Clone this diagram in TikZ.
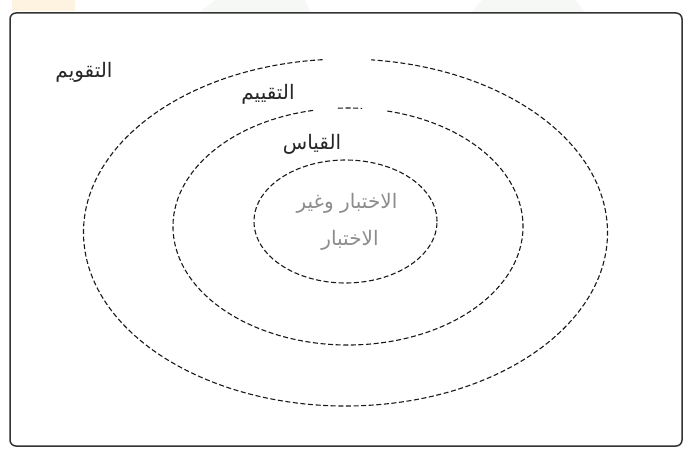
\documentclass[tikz,border=0pt]{standalone}
\usepackage{fontspec}
\TeXXeTstate=1
\newfontfamily\arabicfont[Script=Arabic]{DejaVu Sans}
\begin{document}
\begin{tikzpicture}[x=1pt,y=1pt,
  ring/.style={draw=black!90, line width=1.1pt, dash pattern=on 5pt off 2.6pt},
  lbl/.style={font=\arabicfont\fontsize{20}{24}\selectfont, text=black!85, inner sep=0pt},
  inlbl/.style={font=\arabicfont\fontsize{20}{24}\selectfont, text=black!45, inner sep=0pt}]
\useasboundingbox (0,0) rectangle (684,448);
\fill[white] (0,0) rectangle (684,448);
% faint background marks above the frame
\fill[yellow!12!orange!10] (12,437) rectangle (75,448);
\fill[green!30!black!4] (200,436) -- (215,448) -- (305,448) -- (310,436) -- cycle;
\fill[green!30!black!4] (472,436) -- (482,448) -- (575,448) -- (585,436) -- cycle;
% frame
\draw[black!80, line width=1.5pt, rounded corners=6pt] (10,2) rectangle (682,435);
% outer ellipse with gap at top
\coordinate (oc) at (345.5,215.5);
\draw[ring] (oc) ++(95:262 and 173.5) arc[start angle=95, end angle=444.4, x radius=262, y radius=173.5];
% middle ellipse with gaps at top
\coordinate (mc) at (348,221.5);
\draw[ring] (mc) ++(101.5:175 and 118.5) arc[start angle=101.5, end angle=437.8, x radius=175, y radius=118.5];
\draw[ring] (mc) ++(93.3:175 and 118.5) arc[start angle=93.3, end angle=85.4, x radius=175, y radius=118.5];
% inner ellipse
\coordinate (ic) at (345.5,226.5);
\draw[ring] (ic) ellipse[x radius=91.5, y radius=61.5];
% labels
\node[lbl] (taqwim) at (84,376) {\beginR التقويم\endR};
\node[lbl] (taqyim) at (268,354) {\beginR التقييم\endR};
\node[lbl] (qiyas) at (312,304) {\beginR القياس\endR};
\node[inlbl] (ikh1) at (347,245) {\beginR الاختبار وغير\endR};
\node[inlbl] (ikh2) at (350,208) {\beginR الاختبار\endR};
\end{tikzpicture}
\end{document}
